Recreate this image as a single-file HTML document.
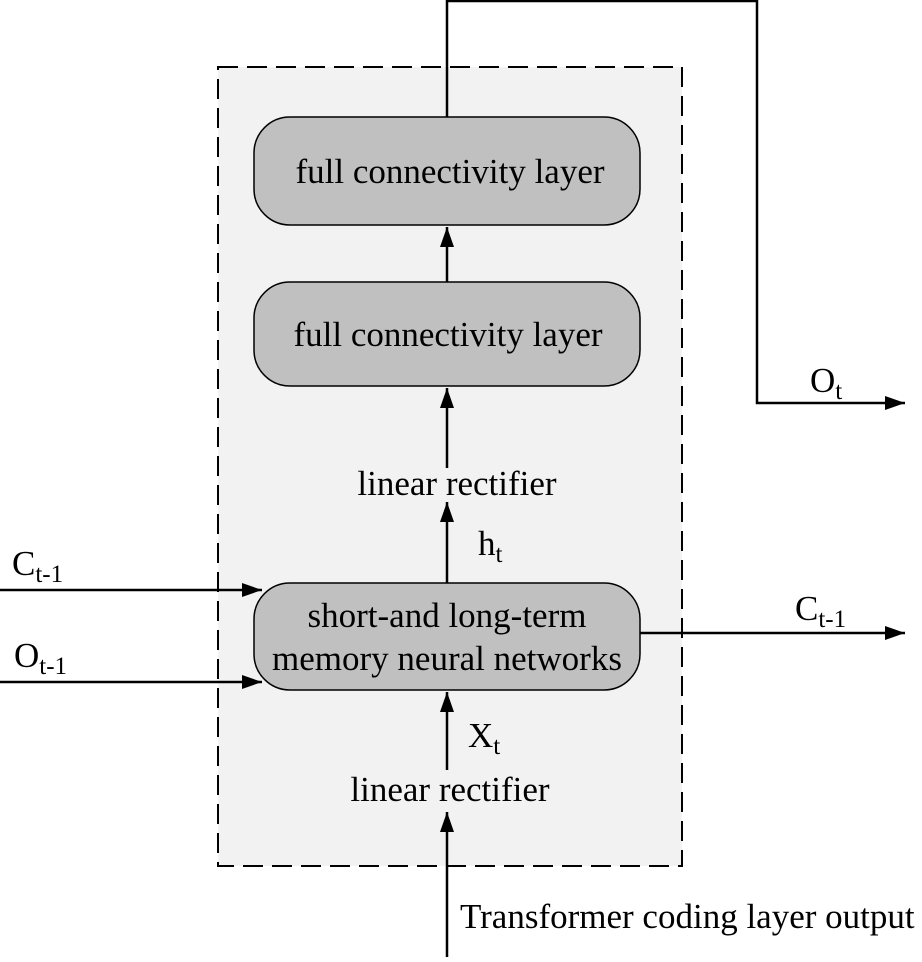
<!DOCTYPE html>
<html><head><meta charset="utf-8"><style>
html,body{margin:0;padding:0;background:#fff}
svg text{font-family:"Liberation Serif",serif;font-size:35px;fill:#000}
</style></head><body>
<svg width="922" height="957" viewBox="0 0 922 957" xmlns="http://www.w3.org/2000/svg">
<defs>
<marker id="b" viewBox="0 0 20 14" refX="20" refY="7" markerWidth="20" markerHeight="14" orient="auto" markerUnits="userSpaceOnUse"><path d="M0,0 L20,7 L0,14 z" fill="#000"/></marker></defs>
<rect x="218" y="67" width="464" height="799" fill="#f2f2f2" stroke="#000" stroke-width="2" stroke-dasharray="20,9"/>
<rect x="254" y="117" width="386" height="108" rx="36" fill="#c0c0c0" stroke="#000" stroke-width="1.5"/>
<rect x="254" y="282" width="386" height="104" rx="36" fill="#c0c0c0" stroke="#000" stroke-width="1.5"/>
<rect x="254" y="583" width="386" height="107" rx="36" fill="#c0c0c0" stroke="#000" stroke-width="1.5"/>
<text x="450" y="183" text-anchor="middle">full connectivity layer</text>
<text x="448" y="346" text-anchor="middle">full connectivity layer</text>
<text x="447" y="627" text-anchor="middle">short-and long-term</text>
<text x="447" y="670" text-anchor="middle">memory neural networks</text>
<text x="457" y="495" text-anchor="middle">linear rectifier</text>
<text x="450" y="801" text-anchor="middle">linear rectifier</text>
<g stroke="#000" stroke-width="2.5" fill="none">
<polyline points="447,117 447,1 757,1 757,403 905,403" marker-end="url(#b)"/>
<line x1="447" y1="282" x2="447" y2="227" marker-end="url(#b)"/>
<line x1="447" y1="468" x2="447" y2="388" marker-end="url(#b)"/>
<line x1="447" y1="583" x2="447" y2="502" marker-end="url(#b)"/>
<line x1="447" y1="770" x2="447" y2="692" marker-end="url(#b)"/>
<line x1="447" y1="957" x2="447" y2="812" marker-end="url(#b)"/>
<line x1="0" y1="590" x2="262" y2="590" marker-end="url(#b)"/>
<line x1="0" y1="682" x2="262" y2="682" marker-end="url(#b)"/>
<line x1="640" y1="633" x2="905" y2="633" marker-end="url(#b)"/>
</g>
<text x="810" y="392">O<tspan font-size="25" dy="7">t</tspan></text>
<text x="478" y="555">h<tspan font-size="25" dy="7">t</tspan></text>
<text x="468" y="747">X<tspan font-size="25" dy="7">t</tspan></text>
<text x="12" y="575">C<tspan font-size="25" dy="7">t-1</tspan></text>
<text x="14" y="667">O<tspan font-size="25" dy="7">t-1</tspan></text>
<text x="795" y="620">C<tspan font-size="25" dy="7">t-1</tspan></text>
<text x="460" y="928">Transformer coding layer output</text>
</svg>
</body></html>
